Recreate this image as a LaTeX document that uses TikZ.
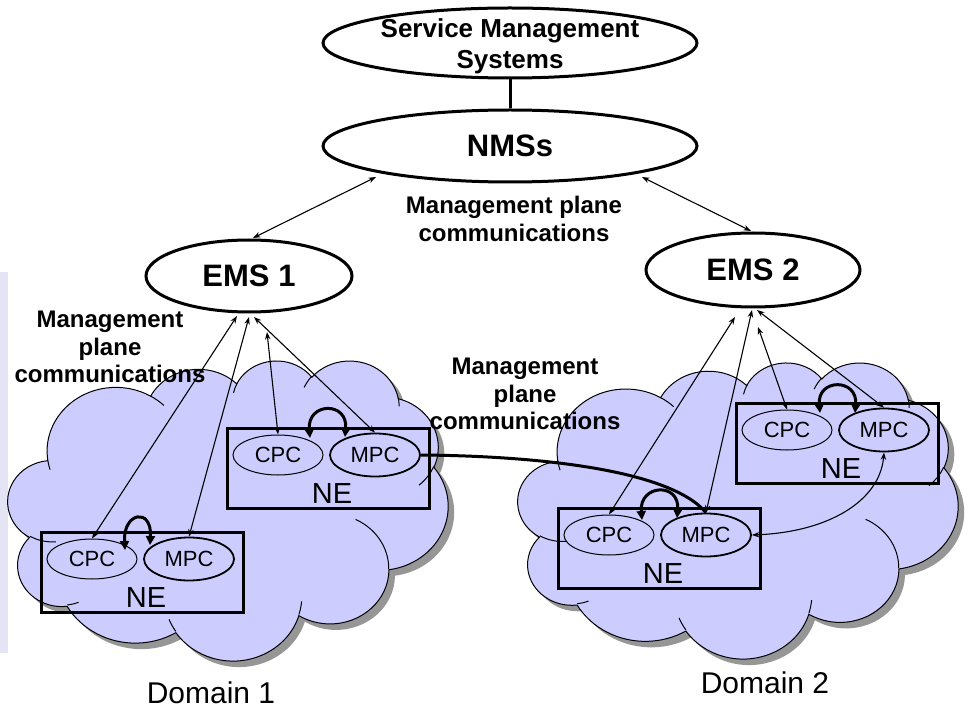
\documentclass[tikz,border=0pt]{standalone}
\usepackage{fontspec}
\setmainfont{Liberation Sans}
\usetikzlibrary{arrows.meta,shapes.geometric}
\definecolor{cloudfill}{RGB}{204,204,255}
\definecolor{cloudshadow}{RGB}{150,150,150}
\definecolor{edgestrip}{RGB}{228,228,244}

% elliptic arc with "visual" angles converted to parametric angles
\newcommand\mkcldarc[5]{%
  \pgfmathsetmacro\cldtmpA{(#4)+mod(atan2((#2)*sin(#4),(#3)*cos(#4))-(#4)+540,360)-180}%
  \pgfmathsetmacro\cldtmpB{(#4)+(#5)+mod(atan2((#2)*sin((#4)+(#5)),(#3)*cos((#4)+(#5)))-((#4)+(#5))+540,360)-180}%
  \expandafter\xdef\csname cld#1\endcsname{arc[start angle=\cldtmpA, end angle=\cldtmpB, x radius=#2pt, y radius=#3pt]}%
}
\mkcldarc{A}{67.53}{91.90}{-190.4875}{123.7805}
\mkcldarc{B}{53.33}{72.67}{-144.1024}{89.9452}
\mkcldarc{C}{43.65}{59.45}{-145.8079}{99.7230}
\mkcldarc{D}{48.57}{65.95}{-130.9861}{117.2417}
\mkcldarc{E}{53.33}{72.73}{-78.7089}{109.0269}
\mkcldarc{F}{67.75}{92.20}{-46.2673}{130.2690}
\mkcldarc{G}{57.85}{78.67}{0.6250}{114.0333}
\mkcldarc{H}{67.52}{92.15}{22.4516}{115.1726}
\mkcldarc{I}{77.20}{105.43}{66.2426}{75.7110}
\mkcldarc{J}{43.60}{59.18}{-274.9421}{146.7356}
\mkcldarc{K}{43.45}{59.45}{-246.8285}{152.5189}
\mkcldarc{a}{43.45}{59.45}{86.7420}{26.4295}
\mkcldarc{b}{43.60}{59.18}{73.6105}{11.4475}
\mkcldarc{c}{67.52}{92.15}{137.6242}{14.0811}
\mkcldarc{d}{67.52}{92.15}{6.4533}{15.9984}
\mkcldarc{e}{57.85}{78.67}{-70.2924}{70.9174}
\mkcldarc{f}{53.33}{72.73}{30.3180}{27.7515}
\mkcldarc{g}{48.57}{65.95}{-13.7443}{14.8589}
\mkcldarc{h}{48.57}{65.95}{-149.1815}{18.1954}
\mkcldarc{i}{43.65}{59.45}{-163.4943}{17.6864}
\mkcldarc{j}{67.53}{91.90}{-66.7070}{12.3194}
\mkcldarc{k}{67.53}{91.90}{157.6544}{11.8582}

\newcommand\cloudoutline{(39,143.7) \cldA \cldB \cldC \cldD \cldE \cldF \cldG \cldH \cldI \cldJ \cldK -- cycle}
\newcommand\cloudinner{(46.93,261.77) \clda (69.28,348.99) \cldb (164.78,390.90) \cldc (288.27,347.51) \cldd (341.29,229.54) \clde (417.98,153.54) \cldf (383.24,54.26) \cldg (290.78,39.52) \cldh (221.41,47.20) \cldi (140.00,51.92) \cldj (41.27,157.89) \cldk}

\newcommand\drawcloud[4]{%
  \begin{scope}[shift={({#1+6},{#2+6})}, xscale={#3/432}, yscale={#4/432}]
    \fill[cloudshadow] \cloudoutline;
  \end{scope}
  \begin{scope}[shift={(#1,#2)}, xscale={#3/432}, yscale={#4/432}]
    \filldraw[fill=cloudfill, draw=black, line width=1pt] \cloudoutline;
    \draw[line width=1pt] \cloudinner;
  \end{scope}}

\tikzset{
  bigell/.style={ellipse, draw, line width=3pt, inner sep=0pt, font=\bfseries\fontsize{31}{36}\selectfont},
  nebox/.style={rectangle, draw, line width=3pt, minimum width=202pt, minimum height=80pt, inner sep=0pt},
  cpcell/.style={ellipse, draw, fill=cloudfill, line width=1pt, minimum width=90pt, minimum height=40pt, inner sep=0pt, font=\fontsize{22}{25}\selectfont},
  mpcell/.style={cpcell, line width=1.8pt, minimum height=43pt},
  netext/.style={font=\fontsize{29}{33}\selectfont, inner sep=0pt},
  planelbl/.style={font=\bfseries\fontsize{24}{27.6}\selectfont, align=center, inner sep=0pt},
  domlbl/.style={font=\fontsize{30}{34}\selectfont, inner sep=0pt, anchor=base},
  thinarr/.style={line width=1.1pt, arrows={Stealth[length=7.5pt,width=5.5pt]-Stealth[length=7.5pt,width=5.5pt]}},
  archarr/.style={line width=3pt, arrows={Triangle[length=9pt,width=9pt]-Triangle[length=9pt,width=9pt]}},
}

\newcommand\nebox[3]{%
  \node[nebox] (#1) at ({#2+101},{#3+40}) {};
  \node[cpcell] (#1c) at ({#2+51},{#3+27}) {CPC};
  \node[mpcell] (#1m) at ({#2+148},{#3+27}) {MPC};
  \node[netext] (#1t) at ({#2+105},{#3+65.5}) {NE};
}

\begin{document}
\begin{tikzpicture}[x=1pt, y=1pt, yscale=-1]
\useasboundingbox (0,0) rectangle (969,708);

% faint strip at the left edge
\fill[edgestrip] (0,272) rectangle (8,653);

% clouds
\drawcloud{8}{360}{440}{300}
\drawcloud{518}{362}{440}{296}

% management systems
\node[bigell, minimum width=374pt, minimum height=70pt] (sms) at (510,43) {};
\node[font=\bfseries\fontsize{26}{31}\selectfont, align=center, inner sep=0pt] (smstext) at (510,46) {Service Management\\Systems};
\node[bigell, minimum width=374pt, minimum height=72pt] (nms) at (510,146) {NMSs};
\node[bigell, minimum width=206pt, minimum height=72pt] (ems1) at (249,276) {EMS 1};
\node[bigell, minimum width=214pt, minimum height=74pt] (ems2) at (753,270) {EMS 2};
\draw[line width=3pt] (sms.south) -- (nms.north);

% network elements
\nebox{a}{227}{428}
\nebox{b}{41}{532}
\nebox{c}{558}{508}
\nebox{d}{736}{403}

% free ends of connectors
\coordinate (n1) at (376,177);
\coordinate (n2) at (642,177);
\coordinate (e1top) at (253,238);
\coordinate (e2top) at (751,231);
\coordinate (e1a) at (237,316);
\coordinate (e1b) at (249,317);
\coordinate (e1c) at (267,332);
\coordinate (e1d) at (254,317);
\coordinate (e2a) at (735,317);
\coordinate (e2b) at (752,310);
\coordinate (e2c) at (758,327);
\coordinate (e2d) at (757,310);

% NMS - EMS
\draw[thinarr] (n1) -- (e1top);
\draw[thinarr] (n2) -- (e2top);

% EMS - NE components
\draw[thinarr] (bc.north) -- (e1a);
\draw[thinarr] (bm.north) -- (e1b);
\draw[thinarr] (ac.north) -- (e1c);
\draw[thinarr] (am.north) -- (e1d);
\draw[thinarr] (cc.north) -- (e2a);
\draw[thinarr] (cm.north) -- (e2b);
\draw[thinarr] (dc.north) -- (e2c);
\draw[thinarr] (dm.north) -- (e2d);

% CPC <-> MPC arches
\draw[archarr] ([shift={(32,-17)}]ac.center) .. controls +(-3,-36) and +(3,-36) .. ([shift={(-30,-18)}]am.center);
\draw[archarr] ([shift={(33,-9)}]bc.center) .. controls +(-2,-38) and +(2,-38) .. ([shift={(-39,-14)}]bm.center);
\draw[archarr] ([shift={(33,-15)}]cc.center) .. controls +(-3,-36) and +(3,-36) .. ([shift={(-29,-17)}]cm.center);
\draw[archarr] ([shift={(33,-17)}]dc.center) .. controls +(-3,-35) and +(3,-35) .. ([shift={(-29,-17)}]dm.center);

% inter-domain and intra-domain MPC links
\draw[line width=3pt] (am.east) .. controls (540,456) and (670,470) .. (cm.north);
\draw[thinarr] (cm.east) .. controls (830,532) and (880,500) .. (dm.south);

% labels
\node[planelbl] (lblmid) at (514,219) {Management plane\\communications};
\node[planelbl] (lblleft) at (110,347) {Management\\plane\\communications};
\node[planelbl] (lblright) at (525,394) {Management\\plane\\communications};
\node[domlbl] (dom1) at (211,703) {Domain 1};
\node[domlbl] (dom2) at (765,693) {Domain 2};
\end{tikzpicture}
\end{document}
